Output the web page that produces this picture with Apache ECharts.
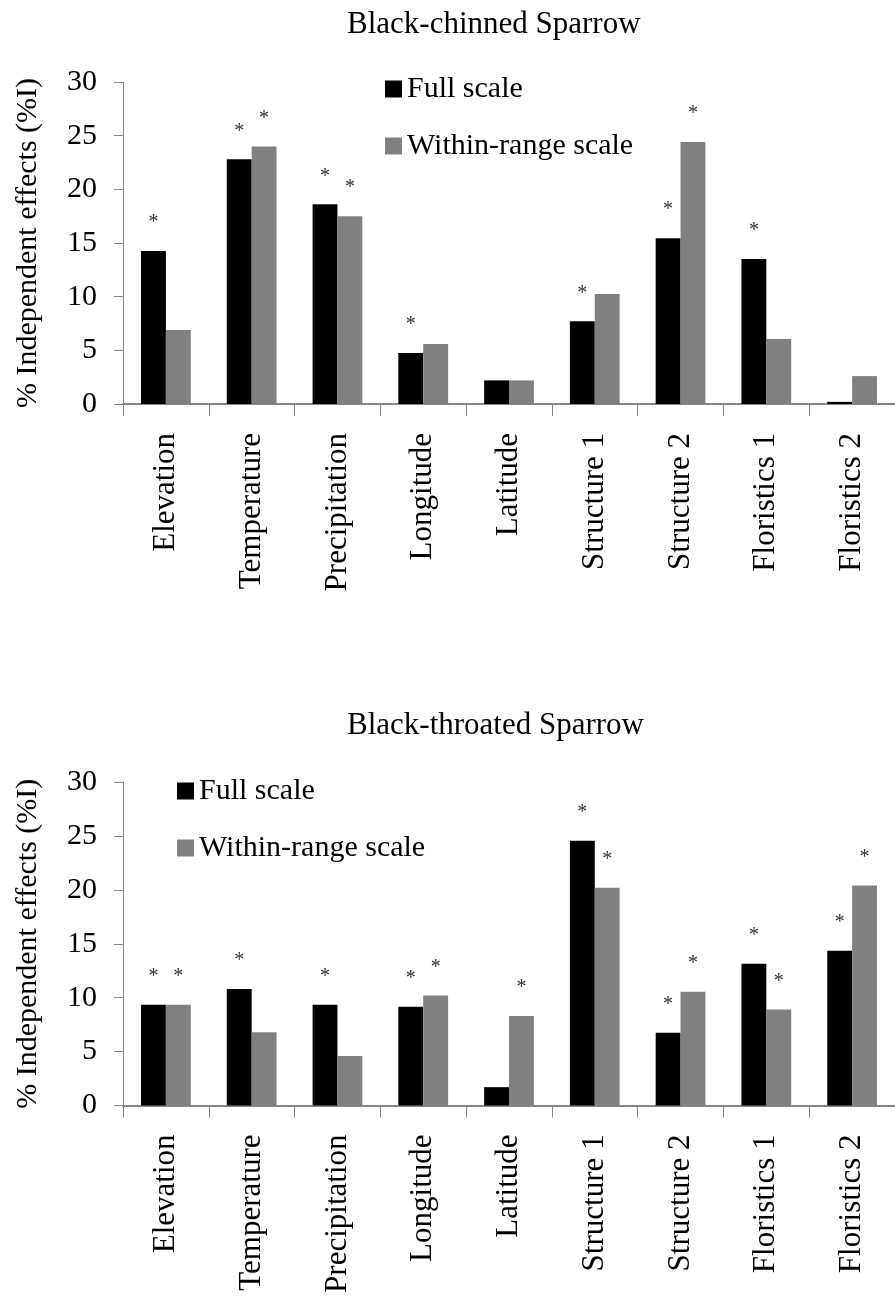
<!DOCTYPE html>
<html>
<head>
<meta charset="utf-8">
<title>Independent effects – Black-chinned and Black-throated Sparrow</title>
<script src="https://cdn.jsdelivr.net/npm/echarts@6/dist/echarts.min.js"></script>
<style>
  html, body { margin: 0; padding: 0; background: #fff; }
  #chart { width: 895px; height: 1300px; }
</style>
</head>
<body>
<div id="chart"></div>
<script>
// Predictor groups shown on both panels
const categories = ['Elevation', 'Temperature', 'Precipitation', 'Longitude', 'Latitude',
                    'Structure 1', 'Structure 2', 'Floristics 1', 'Floristics 2'];

// Black-chinned Sparrow: % independent effects
const chinnedFull   = [14.25, 22.8, 18.6, 4.75, 2.2, 7.7, 15.45, 13.5, 0.2];
const chinnedWithin = [6.9, 24.0, 17.5, 5.6, 2.2, 10.25, 24.4, 6.05, 2.6];
// significance flags (1 = marked with *)
const chinnedSigFull   = [1, 1, 1, 1, 0, 1, 1, 1, 0];
const chinnedSigWithin = [0, 1, 1, 0, 0, 0, 1, 0, 0];

// Black-throated Sparrow: % independent effects
const throatedFull   = [9.35, 10.8, 9.35, 9.15, 1.7, 24.55, 6.75, 13.15, 14.35];
const throatedWithin = [9.35, 6.8, 4.6, 10.2, 8.3, 20.2, 10.55, 8.9, 20.4];
const throatedSigFull   = [1, 1, 1, 1, 0, 1, 1, 1, 1];
const throatedSigWithin = [1, 0, 0, 1, 1, 1, 1, 1, 1];

const seriesNames = ['Full scale', 'Within-range scale'];
const panelTitles = ['Black-chinned Sparrow', 'Black-throated Sparrow'];
const yAxisName = '% Independent effects (%I)';

const SERIF = '"Liberation Serif", "Times New Roman", serif';
const AXIS_GRAY = '#868686';
const FULL_COLOR = '#000000';
const WITHIN_COLOR = '#808080';

function withStars(values, flags) {
  return values.map((v, i) => flags[i] ? { value: v, label: { show: true } } : v);
}

const starLabel = {
  show: false,
  position: 'top',
  distance: 18,
  formatter: '*',
  fontFamily: SERIF,
  fontSize: 20,
  color: '#333'
};

function xAxisFor(gridIndex) {
  return {
    type: 'category',
    gridIndex,
    data: categories,
    axisLine: { show: true, lineStyle: { color: AXIS_GRAY, width: 2 } },
    axisTick: { show: true, length: 12, interval: 0, lineStyle: { color: AXIS_GRAY, width: 1 } },
    axisLabel: {
      interval: 0, rotate: 90, margin: 29,
      fontFamily: SERIF, fontSize: 31, color: '#000'
    },
    splitLine: { show: false }
  };
}

function yAxisFor(gridIndex) {
  return {
    type: 'value',
    gridIndex,
    min: 0, max: 30, interval: 5,
    name: yAxisName,
    nameLocation: 'middle',
    nameRotate: 90,
    nameGap: 80,
    nameTextStyle: { fontFamily: SERIF, fontSize: 30, color: '#000' },
    axisLine: { show: true, lineStyle: { color: AXIS_GRAY, width: 1 } },
    axisTick: { show: true, length: 9, lineStyle: { color: AXIS_GRAY, width: 1 } },
    axisLabel: { margin: 26, fontFamily: SERIF, fontSize: 30, color: '#000' },
    splitLine: { show: false }
  };
}

function barSeries(name, values, flags, color, axisIndex) {
  return {
    name,
    type: 'bar',
    xAxisIndex: axisIndex,
    yAxisIndex: axisIndex,
    data: withStars(values, flags),
    barWidth: '29%',
    barGap: '0%',
    itemStyle: { color },
    label: starLabel,
    emphasis: { disabled: true }
  };
}

const legendBase = {
  orient: 'vertical',
  icon: 'rect',
  itemWidth: 17,
  itemHeight: 17,
  itemGap: 27,
  padding: 0,
  textStyle: { fontFamily: SERIF, fontSize: 30, color: '#000' },
  data: seriesNames
};

const chart = echarts.init(document.getElementById('chart'), null, { renderer: 'canvas' });

chart.setOption({
  backgroundColor: '#ffffff',
  animation: false,
  title: [
    { text: panelTitles[0], left: 347, top: 9, padding: 0,
      textStyle: { fontFamily: SERIF, fontSize: 31, fontWeight: 'normal', color: '#000' } },
    { text: panelTitles[1], left: 347, top: 710, padding: 0,
      textStyle: { fontFamily: SERIF, fontSize: 31, fontWeight: 'normal', color: '#000' } }
  ],
  legend: [
    Object.assign({}, legendBase, { left: 385, top: 74 }),
    Object.assign({}, legendBase, { left: 177, top: 776 })
  ],
  grid: [
    { left: 123, top: 82, width: 782, height: 322 },
    { left: 123, top: 782, width: 782, height: 323.5 }
  ],
  xAxis: [xAxisFor(0), xAxisFor(1)],
  yAxis: [yAxisFor(0), yAxisFor(1)],
  series: [
    barSeries(seriesNames[0], chinnedFull, chinnedSigFull, FULL_COLOR, 0),
    barSeries(seriesNames[1], chinnedWithin, chinnedSigWithin, WITHIN_COLOR, 0),
    barSeries(seriesNames[0], throatedFull, throatedSigFull, FULL_COLOR, 1),
    barSeries(seriesNames[1], throatedWithin, throatedSigWithin, WITHIN_COLOR, 1)
  ]
});
</script>
</body>
</html>
